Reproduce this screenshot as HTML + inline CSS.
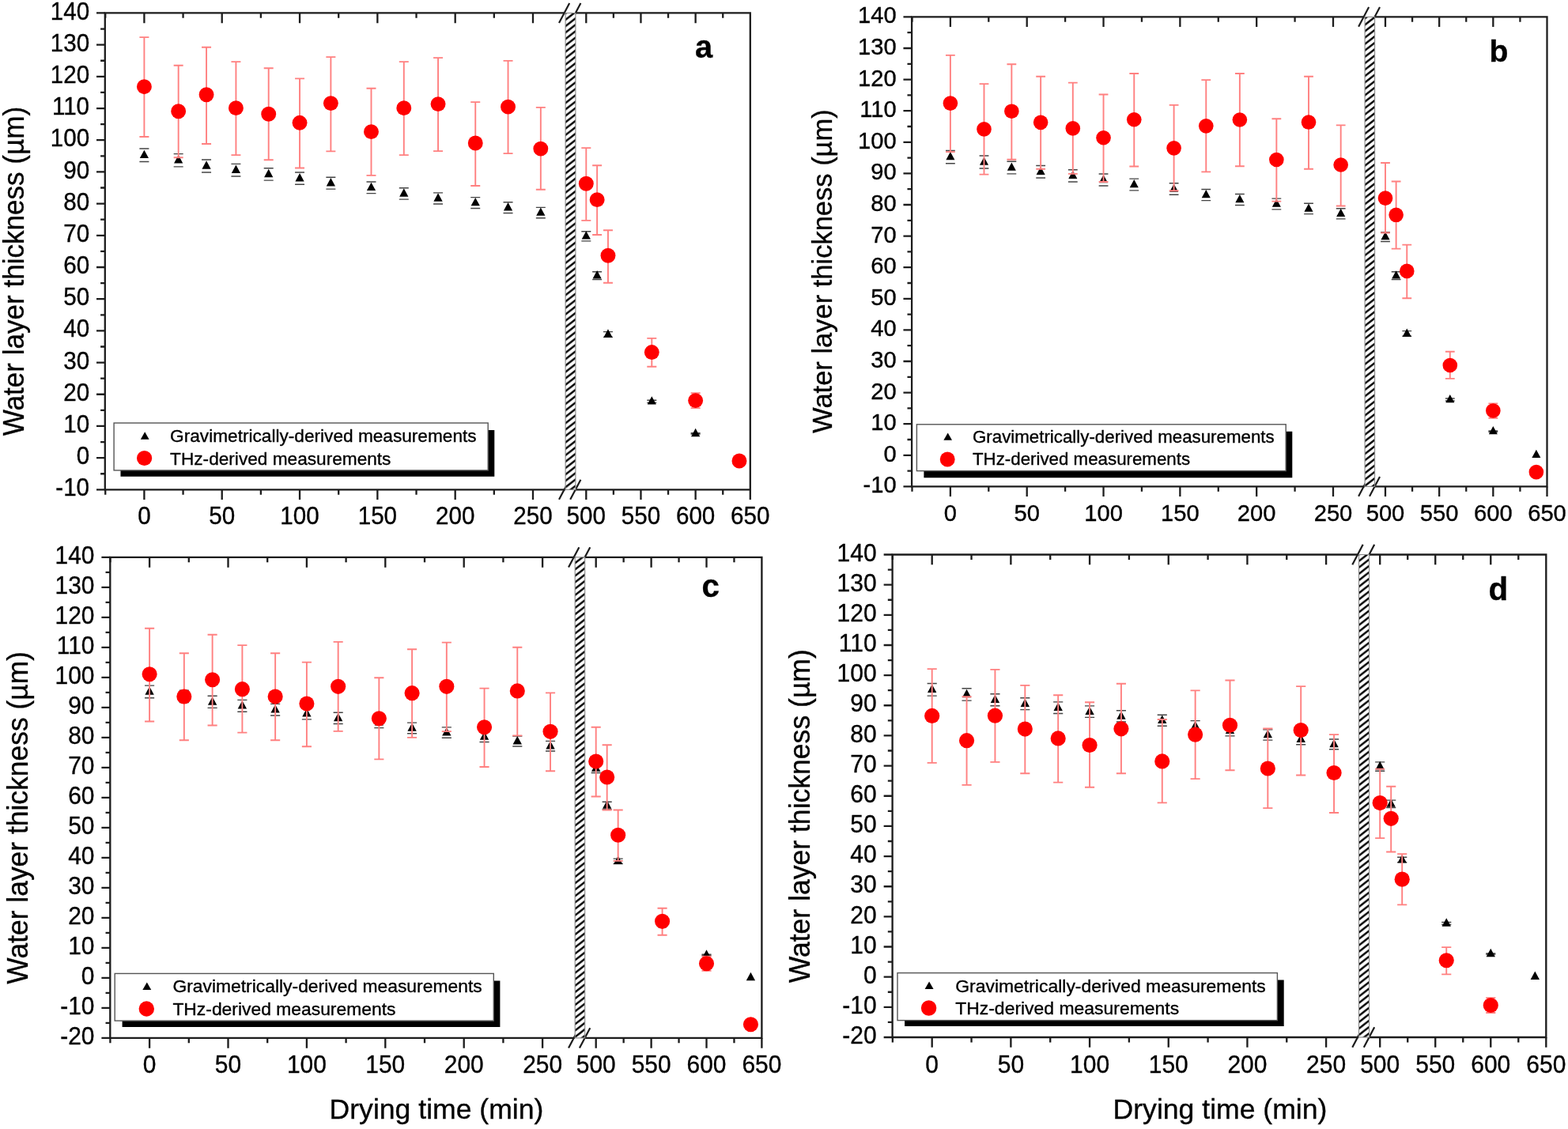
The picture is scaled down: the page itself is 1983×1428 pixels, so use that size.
<!DOCTYPE html>
<html lang="en"><head><meta charset="utf-8"><title>Water layer thickness vs drying time</title>
<style>html,body{margin:0;padding:0;background:#fff}body{width:1983px;height:1428px;overflow:hidden}svg{display:block;font-family:"Liberation Sans",Arial,sans-serif;filter:blur(0.7px)}text{stroke:#000;stroke-width:0.35px;paint-order:stroke}</style>
</head><body>
<svg width="1983" height="1428" viewBox="0 0 1983 1428">
<defs><pattern id="hatch" patternUnits="userSpaceOnUse" width="10.4" height="8.1" patternTransform="translate(714.8 1)"><path d="M-10.4 16.2L20.8 -8.1M-10.4 24.3L20.8 0M-10.4 8.1L20.8 -16.2" stroke="#000" stroke-width="2.4" fill="none"/></pattern></defs>
<rect width="1983" height="1428" fill="#fff"/>
<g id="panel-a">
<g stroke="#1c1c1c" stroke-width="2.3" fill="none" stroke-linecap="butt">
<path d="M714.8 16.45H132.8V619.35H714.8M728.2 16.45H948.8V619.35H728.2"/>
<path d="M132.8 619.35h-10.8M132.8 599.25h-5.7M132.8 579.16h-10.8M132.8 559.06h-5.7M132.8 538.96h-10.8M132.8 518.87h-5.7M132.8 498.77h-10.8M132.8 478.67h-5.7M132.8 458.58h-10.8M132.8 438.48h-5.7M132.8 418.38h-10.8M132.8 398.29h-5.7M132.8 378.19h-10.8M132.8 358.09h-5.7M132.8 338h-10.8M132.8 317.9h-5.7M132.8 297.8h-10.8M132.8 277.71h-5.7M132.8 257.61h-10.8M132.8 237.51h-5.7M132.8 217.42h-10.8M132.8 197.32h-5.7M132.8 177.22h-10.8M132.8 157.13h-5.7M132.8 137.03h-10.8M132.8 116.93h-5.7M132.8 96.84h-10.8M132.8 76.74h-5.7M132.8 56.64h-10.8M132.8 36.55h-5.7M132.8 16.45h-10.8M133.24 619.35v6.4M133.24 16.45v6.4M182.4 619.35v12.7M182.4 16.45v12.7M231.56 619.35v6.4M231.56 16.45v6.4M280.72 619.35v12.7M280.72 16.45v12.7M329.88 619.35v6.4M329.88 16.45v6.4M379.04 619.35v12.7M379.04 16.45v12.7M428.2 619.35v6.4M428.2 16.45v6.4M477.36 619.35v12.7M477.36 16.45v12.7M526.52 619.35v6.4M526.52 16.45v6.4M575.68 619.35v12.7M575.68 16.45v12.7M624.84 619.35v6.4M624.84 16.45v6.4M674 619.35v12.7M674 16.45v12.7M741.3 619.35v12.7M741.3 16.45v12.7M775.88 619.35v6.4M775.88 16.45v6.4M810.47 619.35v12.7M810.47 16.45v12.7M845.05 619.35v6.4M845.05 16.45v6.4M879.63 619.35v12.7M879.63 16.45v12.7M914.22 619.35v6.4M914.22 16.45v6.4M948.8 619.35v12.7"/>
<path stroke-width="2.2" d="M707 28.95L720.2 3.95M721.2 28.95L734.4 3.95M707 631.85L720.2 606.85M721.2 631.85L734.4 606.85"/>
</g>
<rect x="715.1" y="16.45" width="12.8" height="602.9" fill="#fff"/>
<rect x="715.1" y="16.45" width="12.8" height="602.9" fill="url(#hatch)" stroke="#888" stroke-width="1.1"/>
<g font-size="29.61" fill="#000">
<g text-anchor="end">
<text transform="translate(113.09 627.44) scale(1 1.04)">-10</text>
<text transform="translate(113.09 587.25) scale(1 1.04)">0</text>
<text transform="translate(113.09 547.06) scale(1 1.04)">10</text>
<text transform="translate(113.09 506.86) scale(1 1.04)">20</text>
<text transform="translate(113.09 466.67) scale(1 1.04)">30</text>
<text transform="translate(113.09 426.48) scale(1 1.04)">40</text>
<text transform="translate(113.09 386.28) scale(1 1.04)">50</text>
<text transform="translate(113.09 346.09) scale(1 1.04)">60</text>
<text transform="translate(113.09 305.9) scale(1 1.04)">70</text>
<text transform="translate(113.09 265.7) scale(1 1.04)">80</text>
<text transform="translate(113.09 225.51) scale(1 1.04)">90</text>
<text transform="translate(113.09 185.32) scale(1 1.04)">100</text>
<text transform="translate(113.09 145.12) scale(1 1.04)">110</text>
<text transform="translate(113.09 104.93) scale(1 1.04)">120</text>
<text transform="translate(113.09 64.74) scale(1 1.04)">130</text>
<text transform="translate(113.09 24.54) scale(1 1.04)">140</text>
</g><g text-anchor="middle">
<text transform="translate(182.4 662.9) scale(1 1.04)">0</text>
<text transform="translate(280.72 662.9) scale(1 1.04)">50</text>
<text transform="translate(379.04 662.9) scale(1 1.04)">100</text>
<text transform="translate(477.36 662.9) scale(1 1.04)">150</text>
<text transform="translate(575.68 662.9) scale(1 1.04)">200</text>
<text transform="translate(674 662.9) scale(1 1.04)">250</text>
<text transform="translate(741.3 662.9) scale(1 1.04)">500</text>
<text transform="translate(810.47 662.9) scale(1 1.04)">550</text>
<text transform="translate(879.63 662.9) scale(1 1.04)">600</text>
<text transform="translate(948.8 662.9) scale(1 1.04)">650</text>
</g></g>
<text transform="translate(29.8 343.1) rotate(-90) scale(0.9585 1)" text-anchor="middle" font-size="36.6" fill="#000">Water layer thickness (µm)</text>
<text x="879" y="72.8" font-size="39.81" font-weight="bold" fill="#000">a</text>
<path d="M176.4 188.07h12M176.4 204.56h12M219.66 194.64h12M219.66 210.85h12M255.05 202.03h12M255.05 217.93h12M292.42 207.37h12M292.42 223.04h12M333.71 212.7h12M333.71 228.15h12M373.04 218.04h12M373.04 233.27h12M412.37 224.2h12M412.37 239.17h12M463.49 229.95h12M463.49 244.67h12M504.79 237.75h12M504.79 252.14h12M548.05 243.91h12M548.05 258.04h12M595.24 249.65h12M595.24 263.55h12M636.54 255.81h12M636.54 269.45h12M677.83 262.38h12M677.83 275.74h12M735.3 292.76h12M735.3 304.85h12M749.13 343.68h12M749.13 353.61h12M762.96 419.63h12M762.96 426.37h12M818.3 506.26h12M818.3 509.36h12M873.63 547.73h12M873.63 549.08h12" stroke="#444" stroke-width="1.4" fill="none"/>
<path d="M182.4 189.68L188 200.08H176.8ZM225.66 196.11L231.26 206.51H220.06ZM261.06 203.34L266.66 213.75H255.45ZM298.42 208.57L304.02 218.97H292.82ZM339.71 213.79L345.31 224.2H334.11ZM379.04 219.02L384.64 229.42H373.44ZM418.37 225.05L423.97 235.45H412.77ZM469.49 230.68L475.1 241.08H463.89ZM510.79 238.31L516.39 248.72H505.19ZM554.05 244.34L559.65 254.74H548.45ZM601.24 249.97L606.85 260.37H595.64ZM642.54 256L648.14 266.4H636.94ZM683.83 262.43L689.43 272.83H678.23ZM741.3 292.17L746.9 302.57H735.7ZM755.13 342.01L760.74 352.41H749.53ZM768.97 416.37L774.57 426.77H763.36ZM824.3 501.18L829.9 511.58H818.7ZM879.63 541.77L885.24 552.18H874.03Z" fill="#000"/>
<path d="M176.4 47.15h12M176.4 172.97h12M182.4 47.15V172.97M219.66 82.7h12M219.66 199.19h12M225.66 82.7V199.19M255.05 59.76h12M255.05 182.05h12M261.06 59.76V182.05M292.42 78.16h12M292.42 196.17h12M298.42 78.16V196.17M333.71 86.23h12M333.71 202.22h12M339.71 86.23V202.22M373.04 99.34h12M373.04 212.56h12M379.04 99.34V212.56M412.37 72.11h12M412.37 191.38h12M418.37 72.11V191.38M463.49 111.7h12M463.49 221.89h12M469.49 111.7V221.89M504.79 78.16h12M504.79 196.17h12M510.79 78.16V196.17M548.05 73.12h12M548.05 191.12h12M554.05 73.12V191.12M595.24 129.1h12M595.24 235h12M601.24 129.1V235M636.54 76.9h12M636.54 194.15h12M642.54 76.9V194.15M677.83 135.91h12M677.83 239.79h12M683.83 135.91V239.79M735.3 187.09h12M735.3 278.87h12M741.3 187.09V278.87M749.13 209.28h12M749.13 297.02h12M755.13 209.28V297.02M762.96 291.23h12M762.96 357.79h12M768.97 291.23V357.79M818.3 427.92h12M818.3 463.72h12M824.3 427.92V463.72M873.63 497.26h12M873.63 516.17h12M879.63 497.26V516.17" stroke="#ff8080" stroke-width="1.9" fill="none"/>
<g fill="#ff0000"><circle cx="182.4" cy="109.68" r="9.45"/><circle cx="225.66" cy="140.7" r="9.45"/><circle cx="261.06" cy="119.77" r="9.45"/><circle cx="298.42" cy="136.66" r="9.45"/><circle cx="339.71" cy="144.23" r="9.45"/><circle cx="379.04" cy="155.32" r="9.45"/><circle cx="418.37" cy="130.61" r="9.45"/><circle cx="469.49" cy="166.67" r="9.45"/><circle cx="510.79" cy="136.66" r="9.45"/><circle cx="554.05" cy="131.62" r="9.45"/><circle cx="601.24" cy="181.04" r="9.45"/><circle cx="642.54" cy="135.15" r="9.45"/><circle cx="683.83" cy="188.1" r="9.45"/><circle cx="741.3" cy="232.22" r="9.45"/><circle cx="755.13" cy="252.65" r="9.45"/><circle cx="768.97" cy="323.25" r="9.45"/><circle cx="824.3" cy="445.57" r="9.45"/><circle cx="879.63" cy="506.59" r="9.45"/><circle cx="934.97" cy="582.99" r="9.45"/></g>
<path d="M152.5 544.1H625.3V602.7H152.5Z" fill="#000"/>
<rect x="144.1" y="535" width="473.1" height="59.9" fill="#fff" stroke="#555" stroke-width="1.4"/>
<path d="M183.2 546.3L188.6 555.7H177.8Z" fill="#000"/>
<circle cx="182.6" cy="579.5" r="9.6" fill="#ff0000"/>
<text x="215.1" y="559.1" font-size="22.65" fill="#000">Gravimetrically-derived measurements</text>
<text x="215.1" y="587.6" font-size="22.65" fill="#000">THz-derived measurements</text>
</g>
<g id="panel-b">
<g stroke="#1c1c1c" stroke-width="2.27" fill="none" stroke-linecap="butt">
<path d="M1725.8 21.4H1153.1V615.4H1725.8M1738.9 21.4H1956.5V615.4H1738.9"/>
<path d="M1153.1 615.4h-10.64M1153.1 595.6h-5.61M1153.1 575.8h-10.64M1153.1 556h-5.61M1153.1 536.2h-10.64M1153.1 516.4h-5.61M1153.1 496.6h-10.64M1153.1 476.8h-5.61M1153.1 457h-10.64M1153.1 437.2h-5.61M1153.1 417.4h-10.64M1153.1 397.6h-5.61M1153.1 377.8h-10.64M1153.1 358h-5.61M1153.1 338.2h-10.64M1153.1 318.4h-5.61M1153.1 298.6h-10.64M1153.1 278.8h-5.61M1153.1 259h-10.64M1153.1 239.2h-5.61M1153.1 219.4h-10.64M1153.1 199.6h-5.61M1153.1 179.8h-10.64M1153.1 160h-5.61M1153.1 140.2h-10.64M1153.1 120.4h-5.61M1153.1 100.6h-10.64M1153.1 80.8h-5.61M1153.1 61h-10.64M1153.1 41.2h-5.61M1153.1 21.4h-10.64M1153.49 615.4v6.3M1153.49 21.4v6.3M1201.9 615.4v12.51M1201.9 21.4v12.51M1250.31 615.4v6.3M1250.31 21.4v6.3M1298.72 615.4v12.51M1298.72 21.4v12.51M1347.13 615.4v6.3M1347.13 21.4v6.3M1395.54 615.4v12.51M1395.54 21.4v12.51M1443.95 615.4v6.3M1443.95 21.4v6.3M1492.36 615.4v12.51M1492.36 21.4v12.51M1540.77 615.4v6.3M1540.77 21.4v6.3M1589.18 615.4v12.51M1589.18 21.4v12.51M1637.59 615.4v6.3M1637.59 21.4v6.3M1686 615.4v12.51M1686 21.4v12.51M1752 615.4v12.51M1752 21.4v12.51M1786.08 615.4v6.3M1786.08 21.4v6.3M1820.17 615.4v12.51M1820.17 21.4v12.51M1854.25 615.4v6.3M1854.25 21.4v6.3M1888.33 615.4v12.51M1888.33 21.4v12.51M1922.42 615.4v6.3M1922.42 21.4v6.3M1956.5 615.4v12.51"/>
<path stroke-width="2.17" d="M1718.12 33.71L1731.12 9.09M1732.01 33.71L1745.01 9.09M1718.12 627.71L1731.12 603.09M1732.01 627.71L1745.01 603.09"/>
</g>
<rect x="1726.1" y="21.4" width="12.5" height="594" fill="#fff"/>
<rect x="1726.1" y="21.4" width="12.5" height="594" fill="url(#hatch)" stroke="#888" stroke-width="1.1"/>
<g font-size="29.15" fill="#000">
<g text-anchor="end">
<text transform="translate(1133.7 623.37) scale(1 1.04)">-10</text>
<text transform="translate(1133.7 583.77) scale(1 1.04)">0</text>
<text transform="translate(1133.7 544.17) scale(1 1.04)">10</text>
<text transform="translate(1133.7 504.57) scale(1 1.04)">20</text>
<text transform="translate(1133.7 464.97) scale(1 1.04)">30</text>
<text transform="translate(1133.7 425.37) scale(1 1.04)">40</text>
<text transform="translate(1133.7 385.77) scale(1 1.04)">50</text>
<text transform="translate(1133.7 346.17) scale(1 1.04)">60</text>
<text transform="translate(1133.7 306.57) scale(1 1.04)">70</text>
<text transform="translate(1133.7 266.97) scale(1 1.04)">80</text>
<text transform="translate(1133.7 227.37) scale(1 1.04)">90</text>
<text transform="translate(1133.7 187.77) scale(1 1.04)">100</text>
<text transform="translate(1133.7 148.17) scale(1 1.04)">110</text>
<text transform="translate(1133.7 108.57) scale(1 1.04)">120</text>
<text transform="translate(1133.7 68.97) scale(1 1.04)">130</text>
<text transform="translate(1133.7 29.37) scale(1 1.04)">140</text>
</g><g text-anchor="middle">
<text transform="translate(1201.9 658.6) scale(1 1.04)">0</text>
<text transform="translate(1298.72 658.6) scale(1 1.04)">50</text>
<text transform="translate(1395.54 658.6) scale(1 1.04)">100</text>
<text transform="translate(1492.36 658.6) scale(1 1.04)">150</text>
<text transform="translate(1589.18 658.6) scale(1 1.04)">200</text>
<text transform="translate(1686 658.6) scale(1 1.04)">250</text>
<text transform="translate(1752 658.6) scale(1 1.04)">500</text>
<text transform="translate(1820.17 658.6) scale(1 1.04)">550</text>
<text transform="translate(1888.33 658.6) scale(1 1.04)">600</text>
<text transform="translate(1956.5 658.6) scale(1 1.04)">650</text>
</g></g>
<text transform="translate(1052 343.1) rotate(-90) scale(0.9585 1)" text-anchor="middle" font-size="36" fill="#000">Water layer thickness (µm)</text>
<text x="1883.5" y="77.8" font-size="39.2" font-weight="bold" fill="#000">b</text>
<path d="M1195.99 190.49h11.82M1195.99 206.74h11.82M1238.59 196.97h11.82M1238.59 212.94h11.82M1273.45 204.25h11.82M1273.45 219.91h11.82M1310.24 209.51h11.82M1310.24 224.95h11.82M1350.9 214.76h11.82M1350.9 229.99h11.82M1389.63 220.02h11.82M1389.63 235.02h11.82M1428.36 226.09h11.82M1428.36 240.84h11.82M1478.7 231.75h11.82M1478.7 246.26h11.82M1519.37 239.44h11.82M1519.37 253.62h11.82M1561.97 245.51h11.82M1561.97 259.44h11.82M1608.44 251.17h11.82M1608.44 264.86h11.82M1649.11 257.24h11.82M1649.11 270.67h11.82M1689.77 263.71h11.82M1689.77 276.87h11.82M1746.09 293.64h11.82M1746.09 305.55h11.82M1759.72 343.8h11.82M1759.72 353.6h11.82M1773.36 418.64h11.82M1773.36 425.28h11.82M1827.89 503.99h11.82M1827.89 507.04h11.82M1882.42 544.85h11.82M1882.42 546.18h11.82" stroke="#444" stroke-width="1.4" fill="none"/>
<path d="M1201.9 192.07L1207.42 202.32H1196.38ZM1244.5 198.41L1250.02 208.65H1238.99ZM1279.36 205.54L1284.87 215.78H1273.84ZM1316.15 210.69L1321.66 220.93H1310.63ZM1356.81 215.83L1362.33 226.08H1351.3ZM1395.54 220.98L1401.06 231.23H1390.02ZM1434.27 226.92L1439.78 237.17H1428.75ZM1484.61 232.47L1490.13 242.71H1479.1ZM1525.28 239.99L1530.79 250.23H1519.76ZM1567.88 245.93L1573.4 256.17H1562.36ZM1614.35 251.47L1619.87 261.72H1608.84ZM1655.02 257.41L1660.53 267.66H1649.5ZM1695.68 263.75L1701.2 273.99H1690.17ZM1752 293.05L1757.52 303.3H1746.48ZM1765.63 342.16L1771.15 352.4H1760.12ZM1779.27 415.42L1784.78 425.66H1773.75ZM1833.8 498.97L1839.32 509.22H1828.28ZM1888.33 538.97L1893.85 549.21H1882.82ZM1942.87 568.67L1948.38 578.91H1937.35Z" fill="#000"/>
<path d="M1195.99 69.84h11.82M1195.99 192.13h11.82M1201.9 69.84V192.13M1238.59 106.15h11.82M1238.59 220.63h11.82M1244.5 106.15V220.63M1273.45 81.19h11.82M1273.45 201.71h11.82M1279.36 81.19V201.71M1310.24 96.82h11.82M1310.24 213.82h11.82M1316.15 96.82V213.82M1350.9 104.64h11.82M1350.9 219.87h11.82M1356.81 104.64V219.87M1389.63 119.52h11.82M1389.63 229.95h11.82M1395.54 119.52V229.95M1428.36 93.04h11.82M1428.36 210.54h11.82M1434.27 93.04V210.54M1478.7 132.88h11.82M1478.7 241.3h11.82M1484.61 132.88V241.3M1519.37 101.11h11.82M1519.37 217.35h11.82M1525.28 101.11V217.35M1561.97 93.04h11.82M1561.97 210.29h11.82M1567.88 93.04V210.29M1608.44 150.28h11.82M1608.44 254.66h11.82M1614.35 150.28V254.66M1649.11 96.82h11.82M1649.11 213.82h11.82M1655.02 96.82V213.82M1689.77 158.35h11.82M1689.77 260.46h11.82M1695.68 158.35V260.46M1746.09 206h11.82M1746.09 294.5h11.82M1752 206V294.5M1759.72 229.45h11.82M1759.72 314.67h11.82M1765.63 229.45V314.67M1773.36 309.63h11.82M1773.36 377.21h11.82M1779.27 309.63V377.21M1827.89 444.81h11.82M1827.89 478.85h11.82M1833.8 444.81V478.85M1882.42 510.37h11.82M1882.42 528.77h11.82M1888.33 510.37V528.77" stroke="#ff8080" stroke-width="1.9" fill="none"/>
<g fill="#ff0000"><circle cx="1201.9" cy="130.61" r="9.31"/><circle cx="1244.5" cy="163.39" r="9.31"/><circle cx="1279.36" cy="140.7" r="9.31"/><circle cx="1316.15" cy="154.82" r="9.31"/><circle cx="1356.81" cy="162.38" r="9.31"/><circle cx="1395.54" cy="174.23" r="9.31"/><circle cx="1434.27" cy="151.29" r="9.31"/><circle cx="1484.61" cy="187.34" r="9.31"/><circle cx="1525.28" cy="159.35" r="9.31"/><circle cx="1567.88" cy="151.54" r="9.31"/><circle cx="1614.35" cy="201.97" r="9.31"/><circle cx="1655.02" cy="154.56" r="9.31"/><circle cx="1695.68" cy="208.52" r="9.31"/><circle cx="1752" cy="250.63" r="9.31"/><circle cx="1765.63" cy="271.81" r="9.31"/><circle cx="1779.27" cy="342.91" r="9.31"/><circle cx="1833.8" cy="461.96" r="9.31"/><circle cx="1888.33" cy="519.45" r="9.31"/><circle cx="1942.87" cy="597.11" r="9.31"/></g>
<path d="M1168.4 545.8H1634.3V604.2H1168.4Z" fill="#000"/>
<rect x="1159.4" y="536.8" width="466.8" height="58.8" fill="#fff" stroke="#555" stroke-width="1.4"/>
<path d="M1198.7 547.58L1204.02 556.83H1193.38Z" fill="#000"/>
<circle cx="1198.2" cy="581" r="9.46" fill="#ff0000"/>
<text x="1230" y="560.3" font-size="22.3" fill="#000">Gravimetrically-derived measurements</text>
<text x="1230" y="588.1" font-size="22.3" fill="#000">THz-derived measurements</text>
</g>
<g id="panel-c">
<g stroke="#1c1c1c" stroke-width="2.32" fill="none" stroke-linecap="butt">
<path d="M726.9 704.8H139.3V1312.9H726.9M740 704.8H963.4V1312.9H740"/>
<path d="M139.3 1312.9h-10.91M139.3 1293.9h-5.76M139.3 1274.89h-10.91M139.3 1255.89h-5.76M139.3 1236.89h-10.91M139.3 1217.88h-5.76M139.3 1198.88h-10.91M139.3 1179.88h-5.76M139.3 1160.88h-10.91M139.3 1141.87h-5.76M139.3 1122.87h-10.91M139.3 1103.87h-5.76M139.3 1084.86h-10.91M139.3 1065.86h-5.76M139.3 1046.86h-10.91M139.3 1027.85h-5.76M139.3 1008.85h-10.91M139.3 989.85h-5.76M139.3 970.84h-10.91M139.3 951.84h-5.76M139.3 932.84h-10.91M139.3 913.83h-5.76M139.3 894.83h-10.91M139.3 875.83h-5.76M139.3 856.83h-10.91M139.3 837.82h-5.76M139.3 818.82h-10.91M139.3 799.82h-5.76M139.3 780.81h-10.91M139.3 761.81h-5.76M139.3 742.81h-10.91M139.3 723.8h-5.76M139.3 704.8h-10.91M139.4 1312.9v6.47M139.4 704.8v6.47M189.1 1312.9v12.83M189.1 704.8v12.83M238.8 1312.9v6.47M238.8 704.8v6.47M288.5 1312.9v12.83M288.5 704.8v12.83M338.2 1312.9v6.47M338.2 704.8v6.47M387.9 1312.9v12.83M387.9 704.8v12.83M437.6 1312.9v6.47M437.6 704.8v6.47M487.3 1312.9v12.83M487.3 704.8v12.83M537 1312.9v6.47M537 704.8v6.47M586.7 1312.9v12.83M586.7 704.8v12.83M636.4 1312.9v6.47M636.4 704.8v6.47M686.1 1312.9v12.83M686.1 704.8v12.83M753.7 1312.9v12.83M753.7 704.8v12.83M788.65 1312.9v6.47M788.65 704.8v6.47M823.6 1312.9v12.83M823.6 704.8v12.83M858.55 1312.9v6.47M858.55 704.8v6.47M893.5 1312.9v12.83M893.5 704.8v12.83M928.45 1312.9v6.47M928.45 704.8v6.47M963.4 1312.9v12.83"/>
<path stroke-width="2.22" d="M719.02 717.43L732.36 692.17M732.93 717.43L746.26 692.17M719.02 1325.53L732.36 1300.27M732.93 1325.53L746.26 1300.27"/>
</g>
<rect x="727.2" y="704.8" width="12.5" height="608.1" fill="#fff"/>
<rect x="727.2" y="704.8" width="12.5" height="608.1" fill="url(#hatch)" stroke="#888" stroke-width="1.1"/>
<g font-size="29.9" fill="#000">
<g text-anchor="end">
<text transform="translate(119.4 1321.07) scale(1 1.04)">-20</text>
<text transform="translate(119.4 1283.07) scale(1 1.04)">-10</text>
<text transform="translate(119.4 1245.06) scale(1 1.04)">0</text>
<text transform="translate(119.4 1207.05) scale(1 1.04)">10</text>
<text transform="translate(119.4 1169.05) scale(1 1.04)">20</text>
<text transform="translate(119.4 1131.04) scale(1 1.04)">30</text>
<text transform="translate(119.4 1093.04) scale(1 1.04)">40</text>
<text transform="translate(119.4 1055.03) scale(1 1.04)">50</text>
<text transform="translate(119.4 1017.02) scale(1 1.04)">60</text>
<text transform="translate(119.4 979.02) scale(1 1.04)">70</text>
<text transform="translate(119.4 941.01) scale(1 1.04)">80</text>
<text transform="translate(119.4 903) scale(1 1.04)">90</text>
<text transform="translate(119.4 865) scale(1 1.04)">100</text>
<text transform="translate(119.4 826.99) scale(1 1.04)">110</text>
<text transform="translate(119.4 788.99) scale(1 1.04)">120</text>
<text transform="translate(119.4 750.98) scale(1 1.04)">130</text>
<text transform="translate(119.4 712.97) scale(1 1.04)">140</text>
</g><g text-anchor="middle">
<text transform="translate(189.1 1356.8) scale(1 1.04)">0</text>
<text transform="translate(288.5 1356.8) scale(1 1.04)">50</text>
<text transform="translate(387.9 1356.8) scale(1 1.04)">100</text>
<text transform="translate(487.3 1356.8) scale(1 1.04)">150</text>
<text transform="translate(586.7 1356.8) scale(1 1.04)">200</text>
<text transform="translate(686.1 1356.8) scale(1 1.04)">250</text>
<text transform="translate(753.7 1356.8) scale(1 1.04)">500</text>
<text transform="translate(823.6 1356.8) scale(1 1.04)">550</text>
<text transform="translate(893.5 1356.8) scale(1 1.04)">600</text>
<text transform="translate(963.4 1356.8) scale(1 1.04)">650</text>
</g></g>
<text transform="translate(35.3 1034.35) rotate(-90) scale(0.9585 1)" text-anchor="middle" font-size="36.97" fill="#000">Water layer thickness (µm)</text>
<text x="552" y="1415.3" text-anchor="middle" font-size="35.6" fill="#000">Drying time (min)</text>
<text x="887.5" y="754.8" font-size="40.21" font-weight="bold" fill="#000">c</text>
<path d="M183.04 867.11h12.12M183.04 882.7h12.12M226.77 873.32h12.12M226.77 888.65h12.12M262.56 880.31h12.12M262.56 895.35h12.12M300.33 885.36h12.12M300.33 900.18h12.12M342.08 890.41h12.12M342.08 905.02h12.12M381.84 895.45h12.12M381.84 909.85h12.12M421.6 901.28h12.12M421.6 915.43h12.12M473.29 906.71h12.12M473.29 920.64h12.12M515.03 914.09h12.12M515.03 927.7h12.12M558.77 919.91h12.12M558.77 933.28h12.12M606.48 925.35h12.12M606.48 938.49h12.12M648.23 931.17h12.12M648.23 944.07h12.12M689.98 937.38h12.12M689.98 950.02h12.12M747.64 966.11h12.12M747.64 977.54h12.12M761.62 1014.25h12.12M761.62 1023.65h12.12M775.6 1086.08h12.12M775.6 1092.45h12.12M831.52 1167.99h12.12M831.52 1170.92h12.12M887.44 1207.21h12.12M887.44 1208.48h12.12" stroke="#444" stroke-width="1.4" fill="none"/>
<path d="M189.1 868.21L194.76 878.72H183.44ZM232.84 874.29L238.49 884.8H227.18ZM268.62 881.14L274.28 891.64H262.96ZM306.39 886.08L312.05 896.58H300.73ZM348.14 891.02L353.8 901.52H342.48ZM387.9 895.96L393.56 906.47H382.24ZM427.66 901.66L433.32 912.17H422ZM479.35 906.98L485.01 917.49H473.69ZM521.1 914.2L526.75 924.71H515.44ZM564.83 919.9L570.49 930.41H559.17ZM612.54 925.22L618.2 935.73H606.89ZM654.29 930.92L659.95 941.43H648.63ZM696.04 937.01L701.7 947.51H690.38ZM753.7 965.13L759.36 975.64H748.04ZM767.68 1012.26L773.34 1022.76H762.02ZM781.66 1082.57L787.32 1093.08H776ZM837.58 1162.76L843.24 1173.27H831.92ZM893.5 1201.15L899.16 1211.66H887.84ZM949.42 1229.65L955.08 1240.16H943.76Z" fill="#000"/>
<path d="M183.04 794.73h12.12M183.04 912.48h12.12M189.1 794.73V912.48M226.77 826.24h12.12M226.77 936.18h12.12M232.84 826.24V936.18M262.56 802.79h12.12M262.56 917.52h12.12M268.62 802.79V917.52M300.33 816.16h12.12M300.33 926.6h12.12M306.39 816.16V926.6M342.08 826.24h12.12M342.08 936.18h12.12M348.14 826.24V936.18M381.84 837.59h12.12M381.84 944.25h12.12M387.9 837.59V944.25M421.6 811.87h12.12M421.6 924.83h12.12M427.66 811.87V924.83M473.29 857.26h12.12M473.29 960.38h12.12M479.35 857.26V960.38M515.03 821.2h12.12M515.03 932.9h12.12M521.1 821.2V932.9M558.77 812.63h12.12M558.77 925.08h12.12M564.83 812.63V925.08M606.48 870.62h12.12M606.48 969.96h12.12M612.54 870.62V969.96M648.23 818.68h12.12M648.23 930.38h12.12M654.29 818.68V930.38M689.98 876.42h12.12M689.98 975.26h12.12M696.04 876.42V975.26M747.64 919.8h12.12M747.64 1007.5h12.12M753.7 919.8V1007.5M761.62 942.2h12.12M761.62 1024.5h12.12M767.68 942.2V1024.5M775.6 1024.5h12.12M775.6 1088.9h12.12M781.66 1024.5V1088.9M831.52 1148.69h12.12M831.52 1182.73h12.12M837.58 1148.69V1182.73M887.44 1209.7h12.12M887.44 1227.86h12.12M893.5 1209.7V1227.86" stroke="#ff8080" stroke-width="1.9" fill="none"/>
<g fill="#ff0000"><circle cx="189.1" cy="852.72" r="9.55"/><circle cx="232.84" cy="880.96" r="9.55"/><circle cx="268.62" cy="859.78" r="9.55"/><circle cx="306.39" cy="871.63" r="9.55"/><circle cx="348.14" cy="880.96" r="9.55"/><circle cx="387.9" cy="890.04" r="9.55"/><circle cx="427.66" cy="868.35" r="9.55"/><circle cx="479.35" cy="908.69" r="9.55"/><circle cx="521.1" cy="876.67" r="9.55"/><circle cx="564.83" cy="868.35" r="9.55"/><circle cx="612.54" cy="919.79" r="9.55"/><circle cx="654.29" cy="873.9" r="9.55"/><circle cx="696.04" cy="925.34" r="9.55"/><circle cx="753.7" cy="963" r="9.55"/><circle cx="767.68" cy="983.05" r="9.55"/><circle cx="781.66" cy="1056.3" r="9.55"/><circle cx="837.58" cy="1165.33" r="9.55"/><circle cx="893.5" cy="1218.78" r="9.55"/><circle cx="949.42" cy="1295.69" r="9.55"/></g>
<path d="M154.6 1240.4H632.4V1299H154.6Z" fill="#000"/>
<rect x="145.2" y="1231.4" width="479.1" height="59.7" fill="#fff" stroke="#555" stroke-width="1.4"/>
<path d="M185.8 1242.45L191.26 1251.95H180.34Z" fill="#000"/>
<circle cx="185.3" cy="1276" r="9.7" fill="#ff0000"/>
<text x="218.4" y="1255.4" font-size="22.86" fill="#000">Gravimetrically-derived measurements</text>
<text x="218.4" y="1283.9" font-size="22.86" fill="#000">THz-derived measurements</text>
</g>
<g id="panel-d">
<g stroke="#1c1c1c" stroke-width="2.33" fill="none" stroke-linecap="butt">
<path d="M1718.2 701.5H1128.6V1312H1718.2M1731.9 701.5H1955.3V1312H1731.9"/>
<path d="M1128.6 1312h-10.95M1128.6 1292.92h-5.78M1128.6 1273.84h-10.95M1128.6 1254.77h-5.78M1128.6 1235.69h-10.95M1128.6 1216.61h-5.78M1128.6 1197.53h-10.95M1128.6 1178.45h-5.78M1128.6 1159.38h-10.95M1128.6 1140.3h-5.78M1128.6 1121.22h-10.95M1128.6 1102.14h-5.78M1128.6 1083.06h-10.95M1128.6 1063.98h-5.78M1128.6 1044.91h-10.95M1128.6 1025.83h-5.78M1128.6 1006.75h-10.95M1128.6 987.67h-5.78M1128.6 968.59h-10.95M1128.6 949.52h-5.78M1128.6 930.44h-10.95M1128.6 911.36h-5.78M1128.6 892.28h-10.95M1128.6 873.2h-5.78M1128.6 854.12h-10.95M1128.6 835.05h-5.78M1128.6 815.97h-10.95M1128.6 796.89h-5.78M1128.6 777.81h-10.95M1128.6 758.73h-5.78M1128.6 739.66h-10.95M1128.6 720.58h-5.78M1128.6 701.5h-10.95M1128.86 1312v6.49M1128.86 701.5v6.49M1178.7 1312v12.87M1178.7 701.5v12.87M1228.54 1312v6.49M1228.54 701.5v6.49M1278.38 1312v12.87M1278.38 701.5v12.87M1328.22 1312v6.49M1328.22 701.5v6.49M1378.06 1312v12.87M1378.06 701.5v12.87M1427.9 1312v6.49M1427.9 701.5v6.49M1477.74 1312v12.87M1477.74 701.5v12.87M1527.58 1312v6.49M1527.58 701.5v6.49M1577.42 1312v12.87M1577.42 701.5v12.87M1627.26 1312v6.49M1627.26 701.5v6.49M1677.1 1312v12.87M1677.1 701.5v12.87M1745.2 1312v12.87M1745.2 701.5v12.87M1780.22 1312v6.49M1780.22 701.5v6.49M1815.23 1312v12.87M1815.23 701.5v12.87M1850.25 1312v6.49M1850.25 701.5v6.49M1885.27 1312v12.87M1885.27 701.5v12.87M1920.28 1312v6.49M1920.28 701.5v6.49M1955.3 1312v12.87"/>
<path stroke-width="2.23" d="M1710.29 714.17L1723.67 688.83M1724.81 714.17L1738.18 688.83M1710.29 1324.67L1723.67 1299.33M1724.81 1324.67L1738.18 1299.33"/>
</g>
<rect x="1718.5" y="701.5" width="13.1" height="610.5" fill="#fff"/>
<rect x="1718.5" y="701.5" width="13.1" height="610.5" fill="url(#hatch)" stroke="#888" stroke-width="1.1"/>
<g font-size="30" fill="#000">
<g text-anchor="end">
<text transform="translate(1108.63 1320.2) scale(1 1.04)">-20</text>
<text transform="translate(1108.63 1282.04) scale(1 1.04)">-10</text>
<text transform="translate(1108.63 1243.89) scale(1 1.04)">0</text>
<text transform="translate(1108.63 1205.73) scale(1 1.04)">10</text>
<text transform="translate(1108.63 1167.57) scale(1 1.04)">20</text>
<text transform="translate(1108.63 1129.42) scale(1 1.04)">30</text>
<text transform="translate(1108.63 1091.26) scale(1 1.04)">40</text>
<text transform="translate(1108.63 1053.11) scale(1 1.04)">50</text>
<text transform="translate(1108.63 1014.95) scale(1 1.04)">60</text>
<text transform="translate(1108.63 976.79) scale(1 1.04)">70</text>
<text transform="translate(1108.63 938.64) scale(1 1.04)">80</text>
<text transform="translate(1108.63 900.48) scale(1 1.04)">90</text>
<text transform="translate(1108.63 862.32) scale(1 1.04)">100</text>
<text transform="translate(1108.63 824.17) scale(1 1.04)">110</text>
<text transform="translate(1108.63 786.01) scale(1 1.04)">120</text>
<text transform="translate(1108.63 747.86) scale(1 1.04)">130</text>
<text transform="translate(1108.63 709.7) scale(1 1.04)">140</text>
</g><g text-anchor="middle">
<text transform="translate(1178.7 1356.9) scale(1 1.04)">0</text>
<text transform="translate(1278.38 1356.9) scale(1 1.04)">50</text>
<text transform="translate(1378.06 1356.9) scale(1 1.04)">100</text>
<text transform="translate(1477.74 1356.9) scale(1 1.04)">150</text>
<text transform="translate(1577.42 1356.9) scale(1 1.04)">200</text>
<text transform="translate(1677.1 1356.9) scale(1 1.04)">250</text>
<text transform="translate(1745.2 1356.9) scale(1 1.04)">500</text>
<text transform="translate(1815.23 1356.9) scale(1 1.04)">550</text>
<text transform="translate(1885.27 1356.9) scale(1 1.04)">600</text>
<text transform="translate(1955.3 1356.9) scale(1 1.04)">650</text>
</g></g>
<text transform="translate(1024.3 1032.25) rotate(-90) scale(0.9585 1)" text-anchor="middle" font-size="37.1" fill="#000">Water layer thickness (µm)</text>
<text x="1543" y="1415.3" text-anchor="middle" font-size="35.6" fill="#000">Drying time (min)</text>
<text x="1882.5" y="759.2" font-size="40.34" font-weight="bold" fill="#000">d</text>
<path d="M1172.62 864.45h12.16M1172.62 880.1h12.16M1216.48 870.69h12.16M1216.48 886.08h12.16M1252.36 877.7h12.16M1252.36 892.8h12.16M1290.24 882.77h12.16M1290.24 897.65h12.16M1332.11 887.84h12.16M1332.11 902.5h12.16M1371.98 892.9h12.16M1371.98 907.36h12.16M1411.85 898.75h12.16M1411.85 912.96h12.16M1463.68 904.21h12.16M1463.68 918.19h12.16M1505.55 911.61h12.16M1505.55 925.28h12.16M1549.41 917.46h12.16M1549.41 930.88h12.16M1597.26 922.92h12.16M1597.26 936.11h12.16M1639.12 928.76h12.16M1639.12 941.71h12.16M1680.99 935h12.16M1680.99 947.68h12.16M1739.12 963.84h12.16M1739.12 975.31h12.16M1753.13 1012.17h12.16M1753.13 1021.61h12.16M1767.13 1084.28h12.16M1767.13 1090.68h12.16M1823.16 1166.52h12.16M1823.16 1169.46h12.16M1879.19 1205.89h12.16M1879.19 1207.17h12.16" stroke="#444" stroke-width="1.4" fill="none"/>
<path d="M1178.7 865.56L1184.38 876.1H1173.02ZM1222.56 871.67L1228.23 882.21H1216.88ZM1258.44 878.54L1264.12 889.08H1252.77ZM1296.32 883.5L1302 894.04H1290.65ZM1338.19 888.46L1343.86 899H1332.51ZM1378.06 893.42L1383.74 903.96H1372.38ZM1417.93 899.14L1423.61 909.68H1412.26ZM1469.77 904.48L1475.44 915.02H1464.09ZM1511.63 911.73L1517.31 922.27H1505.96ZM1555.49 917.46L1561.17 928H1549.81ZM1603.34 922.8L1609.01 933.34H1597.66ZM1645.2 928.52L1650.88 939.06H1639.53ZM1687.07 934.63L1692.74 945.17H1681.39ZM1745.2 962.86L1750.88 973.4H1739.52ZM1759.21 1010.18L1764.88 1020.72H1753.53ZM1773.21 1080.76L1778.89 1091.31H1767.54ZM1829.24 1161.27L1834.92 1171.81H1823.56ZM1885.27 1199.81L1890.94 1210.35H1879.59ZM1941.29 1228.43L1946.97 1238.97H1935.62Z" fill="#000"/>
<path d="M1172.62 846.16h12.16M1172.62 964.92h12.16M1178.7 846.16V964.92M1216.48 881.21h12.16M1216.48 992.91h12.16M1222.56 881.21V992.91M1252.36 846.92h12.16M1252.36 963.91h12.16M1258.44 846.92V963.91M1290.24 866.84h12.16M1290.24 978.29h12.16M1296.32 866.84V978.29M1332.11 879.19h12.16M1332.11 989.63h12.16M1338.19 879.19V989.63M1371.98 888.27h12.16M1371.98 995.68h12.16M1378.06 888.27V995.68M1411.85 864.82h12.16M1411.85 978.29h12.16M1417.93 864.82V978.29M1463.68 909.95h12.16M1463.68 1015.35h12.16M1469.77 909.95V1015.35M1505.55 873.39h12.16M1505.55 985.09h12.16M1511.63 873.39V985.09M1549.41 860.53h12.16M1549.41 974.25h12.16M1555.49 860.53V974.25M1597.26 921.55h12.16M1597.26 1022.16h12.16M1603.34 921.55V1022.16M1639.12 868.1h12.16M1639.12 980.55h12.16M1645.2 868.1V980.55M1680.99 929.12h12.16M1680.99 1027.96h12.16M1687.07 929.12V1027.96M1739.12 972.6h12.16M1739.12 1060.1h12.16M1745.2 972.6V1060.1M1753.13 994.7h12.16M1753.13 1077.5h12.16M1759.21 994.7V1077.5M1767.13 1080.1h12.16M1767.13 1144.4h12.16M1773.21 1080.1V1144.4M1823.16 1198.11h12.16M1823.16 1232.4h12.16M1829.24 1198.11V1232.4M1879.19 1262.15h12.16M1879.19 1281.06h12.16M1885.27 1262.15V1281.06" stroke="#ff8080" stroke-width="1.9" fill="none"/>
<g fill="#ff0000"><circle cx="1178.7" cy="905.42" r="9.58"/><circle cx="1222.56" cy="936.68" r="9.58"/><circle cx="1258.44" cy="905.16" r="9.58"/><circle cx="1296.32" cy="922.06" r="9.58"/><circle cx="1338.19" cy="933.91" r="9.58"/><circle cx="1378.06" cy="942.48" r="9.58"/><circle cx="1417.93" cy="921.81" r="9.58"/><circle cx="1469.77" cy="962.9" r="9.58"/><circle cx="1511.63" cy="929.12" r="9.58"/><circle cx="1555.49" cy="917.27" r="9.58"/><circle cx="1603.34" cy="971.98" r="9.58"/><circle cx="1645.2" cy="923.57" r="9.58"/><circle cx="1687.07" cy="977.53" r="9.58"/><circle cx="1745.2" cy="1015.6" r="9.58"/><circle cx="1759.21" cy="1035.3" r="9.58"/><circle cx="1773.21" cy="1112.13" r="9.58"/><circle cx="1829.24" cy="1214.75" r="9.58"/><circle cx="1885.27" cy="1271.48" r="9.58"/></g>
<path d="M1144.1 1239.6H1623.7V1298H1144.1Z" fill="#000"/>
<rect x="1135" y="1230.6" width="480.4" height="60" fill="#fff" stroke="#555" stroke-width="1.4"/>
<path d="M1175.1 1241.43L1180.57 1250.96H1169.63Z" fill="#000"/>
<circle cx="1174.6" cy="1275" r="9.73" fill="#ff0000"/>
<text x="1208.2" y="1254.9" font-size="22.94" fill="#000">Gravimetrically-derived measurements</text>
<text x="1208.2" y="1283.1" font-size="22.94" fill="#000">THz-derived measurements</text>
</g>
</svg></body></html>
